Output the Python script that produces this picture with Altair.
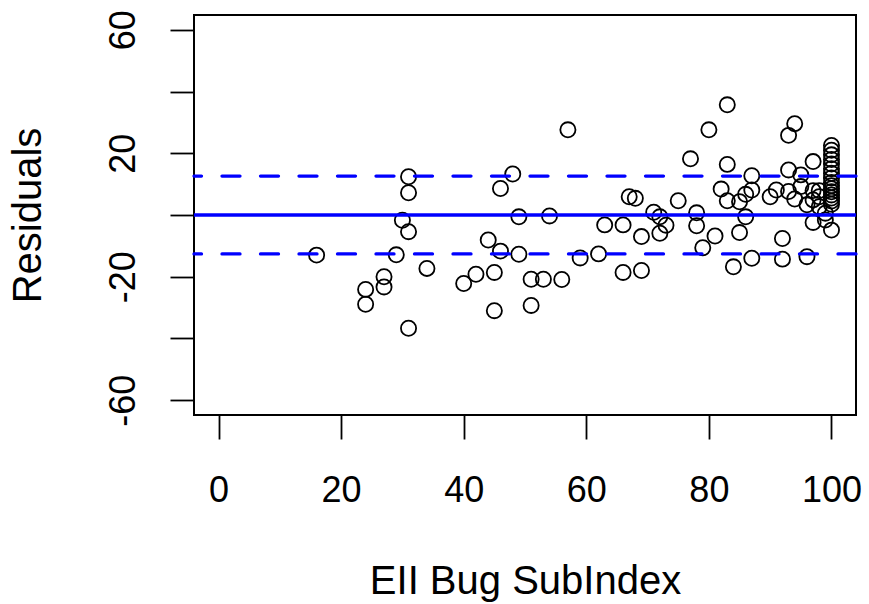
import altair as alt
import pandas as pd

# ---- data ----
x_vals = [16, 24, 24, 27, 27, 29, 30, 31, 31, 31, 31, 34, 40, 42, 44, 45, 45, 46, 46, 48,
          49, 49, 51, 51, 53, 54, 56, 57, 59, 62, 63, 66, 66, 67, 68, 69, 69, 71, 72, 72,
          73, 75, 77, 78, 78, 79, 80, 81, 82, 83, 83, 83, 84, 85, 85, 86, 86, 87, 87, 87,
          90, 91, 92, 92, 93, 93, 93, 94, 94, 95, 95, 96, 96, 97, 97, 97, 97, 98, 98, 98,
          99, 99, 100,
          100, 100, 100, 100, 100, 100, 100, 100, 100, 100, 100, 100, 100, 100, 100, 100]
y_vals = [-13.0, -24.1, -28.9, -20.0, -23.3, -12.9, -1.7, 12.4, 7.2, -5.4, -36.7, -17.3, -22.2, -19.2, -8.1, -18.6, -31.0, 8.6, -11.7, 13.3,
          -0.6, -12.7, -20.8, -29.3, -20.8, -0.3, -20.9, 27.6, -13.9, -12.6, -3.2, -3.2, -18.6, 5.9, 5.4, -7.0, -18.0, 0.9, -0.6, -5.9,
          -3.3, 4.6, 18.2, 0.7, -3.5, -10.6, 27.6, -6.8, 8.4, 35.7, 16.4, 4.6, -16.8, -5.7, 4.3, -0.6, 6.7, 12.7, 8.1, -14.0,
          5.9, 8.1, -7.6, -14.3, 25.8, 14.6, 7.6, 29.6, 5.2, 9.2, 13.0, 3.3, -13.5, 17.3, -2.4, 7.9, 4.9, 2.7, 5.9, 7.9,
          -1.6, 0.6, -4.9,
          22.5, 21.0, 19.5, 18.0, 16.5, 15.0, 13.5, 12.0, 10.5, 9.5, 8.5, 7.5, 6.5, 5.5, 4.5, 3.5]

solid_lines = [0]
dashed_lines = [12.6, -12.6]

x_ticks = [0, 20, 40, 60, 80, 100]
y_ticks = [-60, -40, -20, 0, 20, 40, 60]
y_labelled = [-60, -20, 20, 60]

x_title = "EII Bug SubIndex"
y_title = "Residuals"

FONT = "Liberation Sans"
FS = 36
TFS = 40
W, H = 662, 400

pts = pd.DataFrame({"x": x_vals, "y": y_vals})
solid_df = pd.DataFrame({"y": solid_lines})
dashed_df = pd.DataFrame({"y": dashed_lines})

xscale = alt.Scale(domain=[-4, 104], nice=False, zero=False)
yscale = alt.Scale(domain=[-64.8, 64.8], nice=False, zero=False)

label_list = "[" + ",".join(str(v) for v in y_labelled) + "]"

x_axis = alt.Axis(values=x_ticks, title=x_title, labelExpr="'' + datum.value",
                  tickSize=24, labelPadding=51, labelBaseline="middle", labelAlign="center",
                  labelFlush=False, labelOverlap=False,
                  titleX=W / 2, titleY=166, titleBaseline="middle", titleAlign="center")
y_axis = alt.Axis(values=y_ticks, title=y_title,
                  labelExpr="indexof(" + label_list + ", datum.value) >= 0 ? '' + datum.value : ''",
                  tickSize=24, labelPadding=47, labelAngle=270, labelBaseline="middle",
                  labelAlign="center", labelFlush=False, labelOverlap=False,
                  titleX=-166, titleY=H / 2, titleAngle=270, titleBaseline="middle",
                  titleAlign="center")

points = alt.Chart(pts).mark_point(
    shape="circle", filled=False, color="black", size=230, strokeWidth=1.8, opacity=1
).encode(
    x=alt.X("x:Q", scale=xscale, axis=x_axis),
    y=alt.Y("y:Q", scale=yscale, axis=y_axis),
)

solid = alt.Chart(solid_df).mark_rule(color="#0000ff", strokeWidth=3.3).encode(
    y=alt.Y("y:Q", scale=yscale, axis=y_axis)
)
dashed = alt.Chart(dashed_df).mark_rule(
    color="#0000ff", strokeWidth=3.3, strokeDash=[18, 20.5], strokeCap="round"
).encode(
    y=alt.Y("y:Q", scale=yscale, axis=y_axis)
)

chart = alt.layer(points, solid, dashed).properties(
    width=W, height=H,
    padding={"left": 194, "top": 15, "right": 13, "bottom": 189},
    autosize=alt.AutoSizeParams(type="none"),
    background="white",
).configure_view(
    stroke="black", strokeWidth=2
).configure_axis(
    grid=False, domain=False, tickColor="black", tickWidth=1.8,
    labelFont=FONT, labelFontSize=FS, labelColor="black",
    titleFont=FONT, titleFontSize=TFS, titleColor="black", titleFontWeight="normal",
)

chart.save("out.html", embed_options={"renderer": "svg", "actions": False})
